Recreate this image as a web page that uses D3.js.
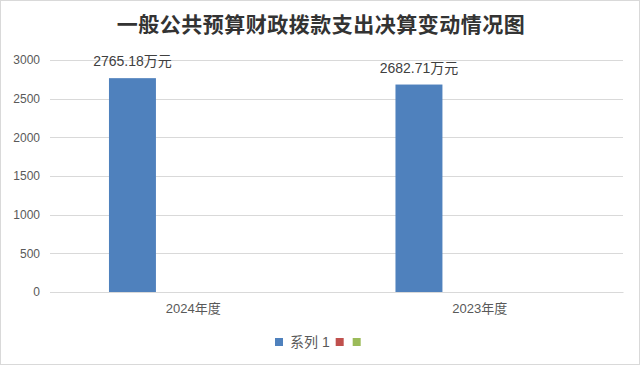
<!DOCTYPE html>
<html lang="zh">
<head>
  <meta charset="UTF-8">
  <title>一般公共预算财政拨款支出决算变动情况图</title>
  <script src="https://d3js.org/d3.v7.min.js"></script>
  <style>
    body { margin: 0; background: #fff; }
    svg { display: block; }
    text { font-family: "Liberation Sans", "Noto Sans CJK SC", sans-serif; }
  </style>
</head>
<body>
  <svg id="chart"></svg>

  <script>
    // Data
    const categories = ["2024年度", "2023年度"];
    const seriesNames = ["系列 1", "", ""];
    const seriesColors = ["#4f81bd", "#c0504d", "#9bbb59"];
    const series1 = [2765.18, 2682.71];
    const dataLabels = ["2765.18万元", "2682.71万元"];
    const yTicks = [0, 500, 1000, 1500, 2000, 2500, 3000];

    const W = 640, H = 365;
    const margin = { top: 60, right: 17, bottom: 73, left: 50 };
    const width = W - margin.left - margin.right;
    const height = H - margin.top - margin.bottom;

    const svg = d3.select("#chart").attr("width", W).attr("height", H);

    // outer border
    svg.append("rect")
       .attr("x", 0.5).attr("y", 0.5)
       .attr("width", W - 1).attr("height", H - 1)
       .attr("fill", "#fff")
       .attr("stroke", "#d9d9d9");

    // title
    svg.append("text")
       .attr("x", W / 2 + 1)
       .attr("y", 25)
       .attr("dy", "0.35em")
       .attr("text-anchor", "middle")
       .style("font-family", "'Noto Sans CJK SC', sans-serif")
       .style("font-size", "21px")
       .style("font-weight", "bold")
       .style("fill", "#333")
       .style("letter-spacing", "0.5px")
       .text("一般公共预算财政拨款支出决算变动情况图");

    const g = svg.append("g")
                 .attr("transform", `translate(${margin.left},${margin.top})`);

    const x = d3.scaleBand().domain(categories).range([0, width]);
    const xs = d3.scaleBand().domain([0, 1, 2])
                 .range([0, x.bandwidth()])
                 .paddingOuter(1.55).align(0.405);
    const y = d3.scaleLinear().domain([0, 3000]).range([height, 0]);

    // grid lines
    g.append("g")
     .selectAll("line")
     .data(yTicks)
     .enter().append("line")
     .attr("x1", 0).attr("x2", width)
     .attr("y1", d => Math.round(y(d)) + 0.5)
     .attr("y2", d => Math.round(y(d)) + 0.5)
     .attr("stroke", "#d9d9d9");

    // y axis labels
    const yAxis = g.append("g")
       .call(d3.axisLeft(y).tickValues(yTicks).tickFormat(d3.format("d"))
               .tickSize(0).tickPadding(10));
    yAxis.select(".domain").remove();
    yAxis.selectAll("text")
         .style("font-size", "12px")
         .style("fill", "#595959");

    // bars (series 1)
    g.selectAll("rect.bar")
     .data(series1)
     .enter().append("rect")
     .attr("class", "bar")
     .attr("x", (d, i) => x(categories[i]) + xs(0))
     .attr("width", xs.bandwidth())
     .attr("y", d => y(d))
     .attr("height", d => height - y(d))
     .attr("fill", seriesColors[0]);

    // data labels
    g.selectAll("text.lbl")
     .data(series1)
     .enter().append("text")
     .attr("class", "lbl")
     .attr("x", (d, i) => x(categories[i]) + xs(0) + xs.bandwidth() / 2)
     .attr("y", d => y(d) - 12)
     .attr("text-anchor", "middle")
     .style("font-size", "14px")
     .style("fill", "#404040")
     .text((d, i) => dataLabels[i]);

    // x axis
    const xAxis = g.append("g")
       .attr("transform", `translate(0,${height})`)
       .call(d3.axisBottom(x).tickSize(0).tickPadding(12));
    xAxis.select(".domain").attr("stroke", "#d9d9d9");
    xAxis.selectAll("text")
         .style("font-size", "13px")
         .style("fill", "#595959");

    // legend
    const legend = svg.append("g").attr("transform", "translate(275,342)");
    let lx = 0;
    seriesNames.forEach((name, i) => {
      legend.append("rect")
            .attr("x", lx).attr("y", -4)
            .attr("width", 8).attr("height", 8)
            .attr("fill", seriesColors[i]);
      lx += 11;
      if (name) {
        const t = legend.append("text")
              .attr("x", lx + 4).attr("y", 0)
              .attr("dy", "0.35em")
              .style("font-size", "14px")
              .style("fill", "#595959")
              .text(name);
        lx += t.node().getComputedTextLength() + 10;
      } else {
        lx += 6;
      }
    });
  </script>
</body>
</html>
